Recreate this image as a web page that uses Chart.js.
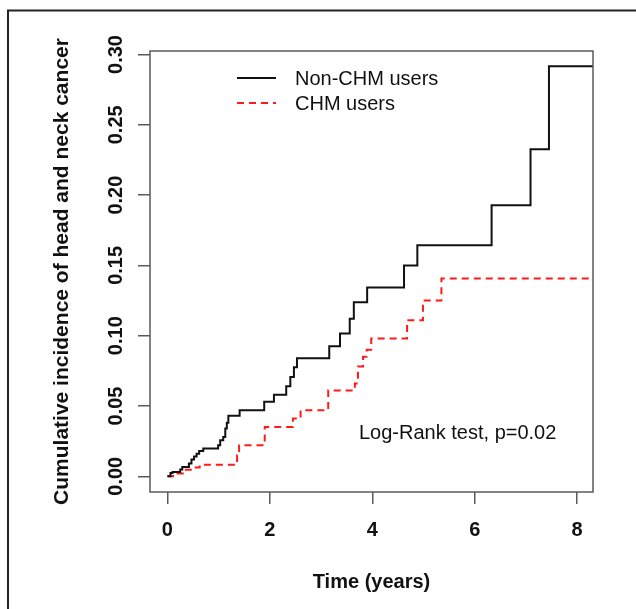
<!DOCTYPE html>
<html>
<head>
<meta charset="utf-8">
<script src="https://cdn.jsdelivr.net/npm/chart.js@4.4.0/dist/chart.umd.min.js"></script>
<style>
html, body { margin: 0; padding: 0; background: #fff; }
</style>
</head>
<body>
<canvas id="chart" width="636" height="609"></canvas>
<script>
// cumulative incidence, step points (value after each jump)
const nonChmTime = [0, 0.06, 0.10, 0.25, 0.29, 0.42, 0.47, 0.52, 0.57, 0.62, 0.70, 0.99, 1.03, 1.09, 1.13, 1.16, 1.19,
    1.41, 1.89, 2.08, 2.32, 2.40, 2.47, 2.53, 3.16, 3.37, 3.56, 3.64, 3.90, 4.62, 4.88, 6.33, 7.09, 7.45, 8.31];
const nonChmInc = [0, 0.0024, 0.003, 0.0048, 0.0066, 0.009, 0.012, 0.014, 0.016, 0.018, 0.0197, 0.022, 0.0256, 0.028, 0.034, 0.038, 0.043,
    0.047, 0.053, 0.058, 0.064, 0.0706, 0.0775, 0.084, 0.0925, 0.1015, 0.112, 0.1238, 0.1342, 0.150, 0.1643, 0.1927, 0.2326, 0.2916, 0.2916];

const chmTime = [0, 0.11, 0.30, 0.50, 0.63, 1.36, 1.40, 1.90, 2.45, 2.60, 3.14, 3.66, 3.72, 3.82, 3.89, 3.98, 4.68, 4.99, 5.35, 8.31];
const chmInc = [0, 0.002, 0.0047, 0.0062, 0.0082, 0.015, 0.022, 0.035, 0.041, 0.047, 0.061, 0.066, 0.078, 0.085, 0.090, 0.098, 0.111, 0.125, 0.1406, 0.1406];

const xTicks = [0, 2, 4, 6, 8];
const yTicks = [0, 0.05, 0.10, 0.15, 0.20, 0.25, 0.30];
const seriesNames = ['Non-CHM users', 'CHM users'];
const noteText = 'Log-Rank test, p=0.02';
const xTitle = 'Time (years)';
const yTitle = 'Cumulative incidence of head and neck cancer';

const FONT = '"Liberation Sans", Arial, sans-serif';
const AXIS_GREY = '#5a5a5a';

function toPoints(xs, ys) {
    return xs.map((x, i) => ({ x: x, y: ys[i] }));
}

const decorPlugin = {
    id: 'decor',
    afterDraw(chart) {
        const ctx = chart.ctx;
        const area = chart.chartArea;
        const yScale = chart.scales.y;
        ctx.save();

        // outer figure frame (runs off the right and bottom edge)
        ctx.strokeStyle = '#222';
        ctx.lineWidth = 2;
        ctx.beginPath();
        ctx.moveTo(8, 640);
        ctx.lineTo(8, 10.5);
        ctx.lineTo(700, 10.5);
        ctx.stroke();

        // plot box
        ctx.strokeStyle = AXIS_GREY;
        ctx.lineWidth = 1.5;
        ctx.strokeRect(area.left, area.top, area.right - area.left, area.bottom - area.top);

        // rotated y tick labels
        ctx.fillStyle = '#111';
        ctx.font = 'bold 20px ' + FONT;
        ctx.textAlign = 'center';
        ctx.textBaseline = 'middle';
        yTicks.forEach(v => {
            const py = yScale.getPixelForValue(v);
            ctx.save();
            ctx.translate(116, py);
            ctx.rotate(-Math.PI / 2);
            ctx.fillText(v.toFixed(2), 0, 0);
            ctx.restore();
        });

        // legend
        ctx.font = '20px ' + FONT;
        ctx.textAlign = 'left';
        const legendY = [78, 103];
        chart.data.datasets.forEach((ds, i) => {
            ctx.strokeStyle = ds.borderColor;
            ctx.lineWidth = ds.borderWidth;
            ctx.setLineDash(ds.borderDash || []);
            ctx.beginPath();
            ctx.moveTo(237, legendY[i]);
            ctx.lineTo(276, legendY[i]);
            ctx.stroke();
            ctx.setLineDash([]);
            ctx.fillStyle = '#111';
            ctx.fillText(ds.label, 295, legendY[i] + 1);
        });

        // test annotation
        ctx.fillText(noteText, 359, 433);
        ctx.restore();
    }
};

new Chart(document.getElementById('chart'), {
    type: 'line',
    data: {
        datasets: [
            {
                label: seriesNames[0],
                data: toPoints(nonChmTime, nonChmInc),
                borderColor: '#111',
                borderWidth: 2,
                stepped: 'before',
                pointRadius: 0,
                fill: false
            },
            {
                label: seriesNames[1],
                data: toPoints(chmTime, chmInc),
                borderColor: '#ff1a1a',
                borderWidth: 2,
                borderDash: [7, 5],
                stepped: 'before',
                pointRadius: 0,
                fill: false
            }
        ]
    },
    options: {
        responsive: false,
        animation: false,
        devicePixelRatio: 1,
        layout: {
            padding: { top: 51, right: 43, bottom: 0, left: 0 }
        },
        plugins: {
            legend: { display: false },
            tooltip: { enabled: false }
        },
        scales: {
            x: {
                type: 'linear',
                min: -0.34,
                max: 8.31,
                afterBuildTicks: s => { s.ticks = xTicks.map(v => ({ value: v })); },
                afterFit: s => { s.height = 117; },
                grid: { drawOnChartArea: false, drawTicks: true, tickLength: 12, color: AXIS_GREY, lineWidth: 1.5 },
                border: { display: false },
                ticks: {
                    color: '#111',
                    font: { family: FONT, size: 20, weight: 'bold' },
                    padding: 14,
                    maxRotation: 0,
                    callback: v => String(v)
                },
                title: {
                    display: true,
                    text: xTitle,
                    color: '#111',
                    font: { family: FONT, size: 20, weight: 'bold' },
                    padding: { top: 0, bottom: 15 }
                }
            },
            y: {
                type: 'linear',
                min: -0.0112,
                max: 0.3025,
                afterBuildTicks: s => { s.ticks = yTicks.map(v => ({ value: v })); },
                afterFit: s => { s.width = 150; },
                grid: { drawOnChartArea: false, drawTicks: true, tickLength: 12, color: AXIS_GREY, lineWidth: 1.5 },
                border: { display: false },
                ticks: { display: false },
                title: {
                    display: true,
                    text: yTitle,
                    color: '#111',
                    font: { family: FONT, size: 21, weight: 'bold' },
                    padding: { top: 50, bottom: 0 }
                }
            }
        }
    },
    plugins: [decorPlugin]
});
</script>
</body>
</html>
